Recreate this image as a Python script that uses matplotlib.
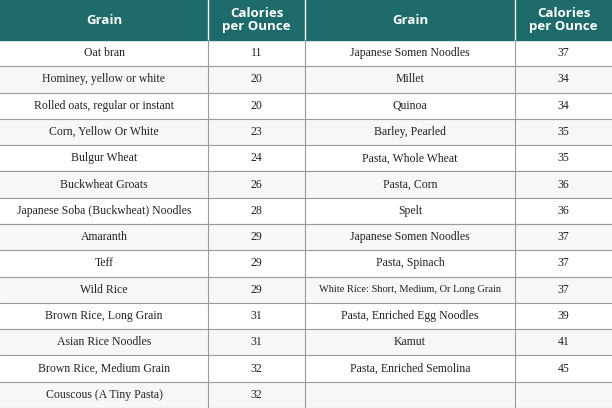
import matplotlib.pyplot as plt
from matplotlib.patches import Rectangle

left_grains = ["Oat bran", "Hominey, yellow or white", "Rolled oats, regular or instant",
               "Corn, Yellow Or White", "Bulgur Wheat", "Buckwheat Groats",
               "Japanese Soba (Buckwheat) Noodles", "Amaranth", "Teff", "Wild Rice",
               "Brown Rice, Long Grain", "Asian Rice Noodles", "Brown Rice, Medium Grain",
               "Couscous (A Tiny Pasta)"]
left_cal = [11, 20, 20, 23, 24, 26, 28, 29, 29, 29, 31, 31, 32, 32]
right_grains = ["Japanese Somen Noodles", "Millet", "Quinoa", "Barley, Pearled",
                "Pasta, Whole Wheat", "Pasta, Corn", "Spelt", "Japanese Somen Noodles",
                "Pasta, Spinach", "White Rice: Short, Medium, Or Long Grain",
                "Pasta, Enriched Egg Noodles", "Kamut", "Pasta, Enriched Semolina", ""]
right_cal = [37, 34, 34, 35, 35, 36, 36, 37, 37, 37, 39, 41, 45, None]
headers = ["Grain", "Calories\nper Ounce", "Grain", "Calories\nper Ounce"]

W, H = 612, 408
col_edges = [0, 208, 305, 515, 612]
header_h = 40
row_h = (H - header_h) / len(left_grains)

fig = plt.figure(figsize=(6.12, 4.08), dpi=100)
ax = fig.add_axes([0, 0, 1, 1])
ax.set_xlim(0, W)
ax.set_ylim(H, 0)
ax.axis("off")

ax.add_patch(Rectangle((0, 0), W, header_h, color="#1d6b6a"))
for i, h in enumerate(headers):
    cx = (col_edges[i] + col_edges[i + 1]) / 2
    ax.text(cx, header_h / 2, h, ha="center", va="center", color="white",
            fontsize=9.5, fontweight="bold", family="Open Sans", linespacing=1.0)
for x in col_edges[1:-1]:
    ax.plot([x, x], [0, header_h], color="white", lw=1)

cols = [left_grains, left_cal, right_grains, right_cal]
for r in range(len(left_grains)):
    y0 = header_h + r * row_h
    ax.add_patch(Rectangle((0, y0), W, row_h, color="#f7f7f7" if r % 2 else "white", zorder=0))
    for c, data in enumerate(cols):
        v = data[r]
        if v is None or v == "":
            continue
        cx = (col_edges[c] + col_edges[c + 1]) / 2
        fs = 7.5 if len(str(v)) > 35 else 8.5
        ax.text(cx, y0 + row_h / 2, str(v), ha="center", va="center",
                fontsize=fs, family="Liberation Serif", color="#222222")
    ax.plot([0, W], [y0 + row_h, y0 + row_h], color="#9a9a9a", lw=0.8)
for x in col_edges[1:-1]:
    ax.plot([x, x], [header_h, H], color="#9a9a9a", lw=0.8)

fig.savefig("out.png", dpi=100)
